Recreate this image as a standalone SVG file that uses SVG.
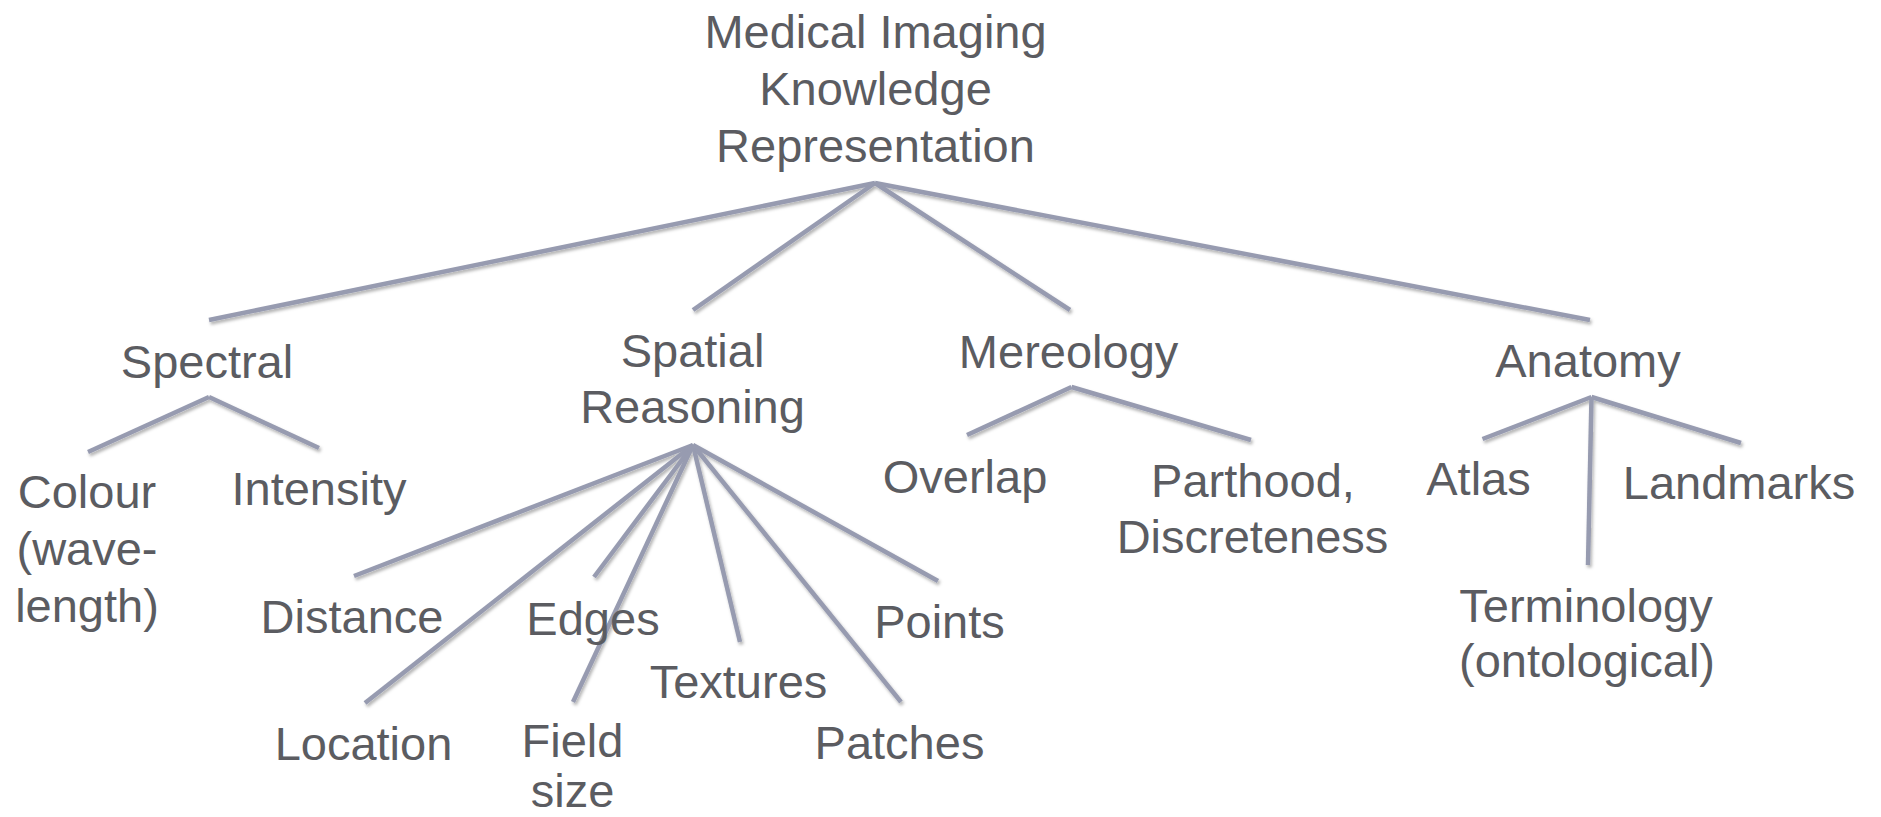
<svg xmlns="http://www.w3.org/2000/svg" width="1881" height="817" viewBox="0 0 1881 817">
<defs>
<filter id="sh" x="-5%" y="-5%" width="110%" height="110%">
<feDropShadow dx="1.5" dy="2.5" stdDeviation="1.5" flood-color="#000" flood-opacity="0.3"/>
</filter>
<style>
text{font-family:"Liberation Sans",Arial,sans-serif;font-size:47px;fill:#5b5c61;text-anchor:middle}
.c line{stroke:#979bb0;stroke-width:4.5;stroke-linecap:butt}
</style>
</defs>
<rect width="1881" height="817" fill="#ffffff"/>
<g id="connectors" class="c" filter="url(#sh)">
<line x1="875" y1="183" x2="209" y2="320"/>
<line x1="875" y1="183" x2="693" y2="310"/>
<line x1="875" y1="183" x2="1070" y2="310"/>
<line x1="875" y1="183" x2="1590" y2="320"/>
<line x1="209" y1="397" x2="88" y2="452"/>
<line x1="209" y1="397" x2="319" y2="448"/>
<line x1="693" y1="445" x2="354" y2="576"/>
<line x1="693" y1="445" x2="365" y2="703"/>
<line x1="693" y1="445" x2="594" y2="577"/>
<line x1="693" y1="445" x2="573" y2="702"/>
<line x1="693" y1="445" x2="740" y2="642"/>
<line x1="693" y1="445" x2="901" y2="702"/>
<line x1="693" y1="445" x2="938" y2="581"/>
<line x1="1071.5" y1="387" x2="967" y2="435"/>
<line x1="1071.5" y1="387" x2="1251" y2="440"/>
<line x1="1591.5" y1="397" x2="1482.5" y2="439"/>
<line x1="1591.5" y1="397" x2="1741" y2="443"/>
<line x1="1591.5" y1="397" x2="1588" y2="565"/>
</g>
<g id="root"><text x="875.5" y="48">Medical Imaging</text><text x="875.5" y="105">Knowledge</text><text x="875.5" y="162">Representation</text></g>
<g id="spectral"><text x="207" y="378">Spectral</text></g>
<g id="colour"><text x="87" y="508">Colour</text><text x="87" y="565">(wave-</text><text x="87" y="622">length)</text></g>
<g id="intensity"><text x="319" y="505">Intensity</text></g>
<g id="spatial"><text x="692.5" y="367">Spatial</text><text x="692.5" y="423">Reasoning</text></g>
<g id="distance"><text x="352" y="633">Distance</text></g>
<g id="location"><text x="363.5" y="760">Location</text></g>
<g id="edges"><text x="593" y="635">Edges</text></g>
<g id="fieldsize"><text x="572.5" y="757">Field</text><text x="572.5" y="807">size</text></g>
<g id="textures"><text x="738.5" y="698">Textures</text></g>
<g id="patches"><text x="899.5" y="759">Patches</text></g>
<g id="points"><text x="939.5" y="638">Points</text></g>
<g id="mereology"><text x="1068.6" y="368">Mereology</text></g>
<g id="overlap"><text x="965" y="493">Overlap</text></g>
<g id="parthood"><text x="1253" y="497">Parthood,</text><text x="1252.5" y="553">Discreteness</text></g>
<g id="anatomy"><text x="1588" y="377">Anatomy</text></g>
<g id="atlas"><text x="1478.5" y="495">Atlas</text></g>
<g id="landmarks"><text x="1739" y="499">Landmarks</text></g>
<g id="terminology"><text x="1586" y="622">Terminology</text><text x="1587" y="677">(ontological)</text></g>
</svg>
